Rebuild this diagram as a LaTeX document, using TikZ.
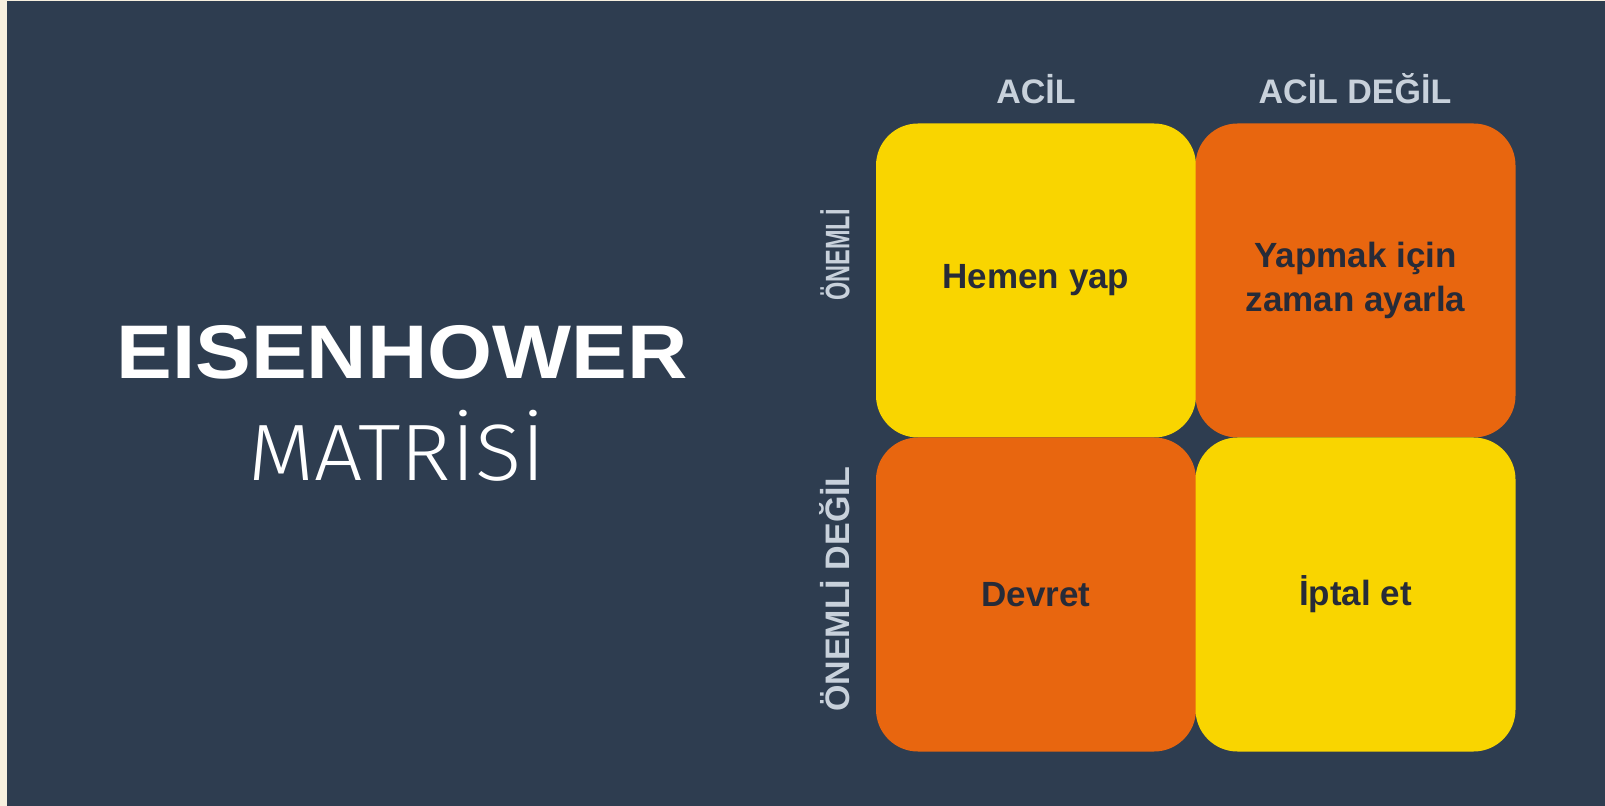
\documentclass[tikz,border=0pt]{standalone}
\usepackage{fontspec}
\setmainfont{Liberation Sans}
\newfontfamily\lightfont{Fira Sans Light}
\definecolor{cream}{HTML}{F7F0DF}
\definecolor{bgslate}{HTML}{2E3D50}
\definecolor{qyellow}{HTML}{F9D500}
\definecolor{qorange}{HTML}{E8660F}
\definecolor{lblgray}{HTML}{C8D1DB}
\definecolor{qtext}{HTML}{272B38}
\tikzset{
  quad/.style={rounded corners=21pt, minimum width=160pt, minimum height=157pt, inner sep=0pt,
    align=center, text=qtext, font=\fontsize{17.5}{22}\selectfont\bfseries},
  axislbl/.style={text=lblgray, font=\fontsize{17}{20}\selectfont\bfseries, inner sep=0pt},
}
\begin{document}
\begin{tikzpicture}[x=0.5pt,y=-0.5pt]
\useasboundingbox (0,0) rectangle (1605,806);
\fill[cream] (0,0) rectangle (1605,806);
\fill[bgslate] (7,1) rectangle (1605,806);
% quadrants
\node[quad, fill=qyellow] (q1) at (1036,280.5) {Hemen yap};
\node[quad, fill=qorange] (q2) at (1355.5,280.5) {Yapmak için\\zaman ayarla};
\node[quad, fill=qorange] (q3) at (1036,594.5) {Devret};
\node[quad, fill=qyellow] (q4) at (1355.5,594.5) {İptal et};
% axis labels
\node[axislbl] (acil) at (1036,89) {ACİL};
\node[axislbl] (acildegil) at (1355,89) {ACİL DEĞİL};
\node[axislbl, rotate=90] (onemli) at (835,255) {\scalebox{0.69}[1]{ÖNEMLİ}};
\node[axislbl, rotate=90] (onemlidegil) at (835,589) {ÖNEMLİ DEĞİL};
% title
\node[text=white, inner sep=0pt, font=\fontsize{38}{44}\selectfont\bfseries] (t1) at (402,352) {\scalebox{1.1}[1]{EISENHOWER}};
\node[text=white, inner sep=0pt, font=\fontsize{40}{44}\lightfont] (t2) at (397,446) {\scalebox{1.07}[1]{MATRİSİ}};
\end{tikzpicture}
\end{document}
